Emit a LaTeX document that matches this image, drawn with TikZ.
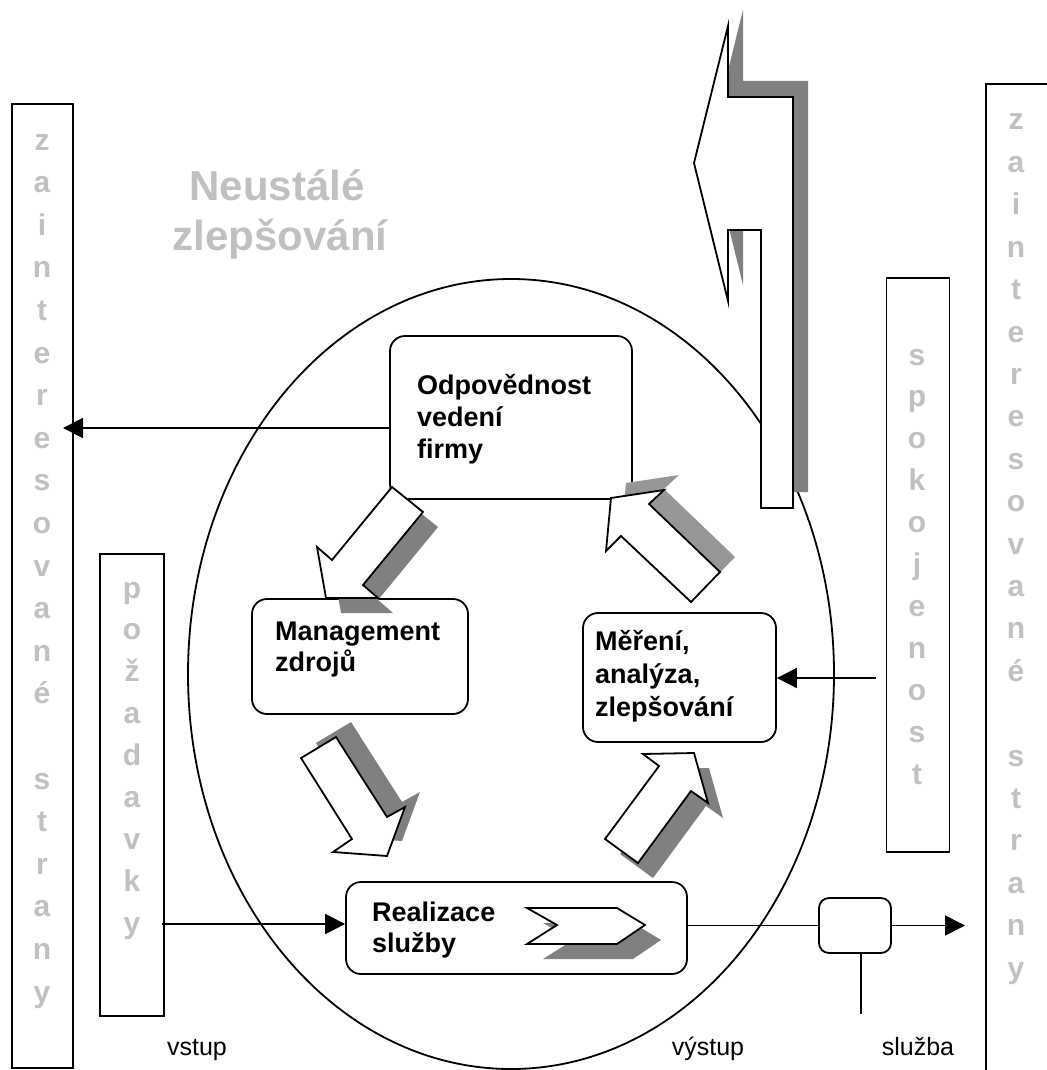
\documentclass[tikz,border=0pt]{standalone}
\usepackage{fontspec}
\setmainfont{Liberation Sans}
\usetikzlibrary{arrows.meta}
\definecolor{shd}{HTML}{808080}
\definecolor{shdl}{HTML}{969696}
\definecolor{lgt}{HTML}{C0C0C0}
\begin{document}
\begin{tikzpicture}[x=1pt,y=-1pt,
  box/.style={draw, line width=1.8pt, rounded corners=15pt, fill=white, inner sep=0pt},
  bar/.style={draw, line width=1.8pt, fill=white, inner sep=0pt},
  blk/.style={draw, line width=1.8pt, fill=white, line join=miter},
  vl/.style={text=lgt, font=\fontsize{30}{30}\selectfont\bfseries, anchor=base, inner sep=0pt},
  bt/.style={font=\fontsize{27}{27}\selectfont\bfseries, anchor=base west, inner sep=0pt},
  lab/.style={font=\fontsize{25}{25}\selectfont, anchor=base, inner sep=0pt},
  arr/.style={line width=1.8pt, -{Triangle[length=20pt,width=20pt]}},
  ln/.style={line width=1.8pt}]
\useasboundingbox (0,0) rectangle (1046,1070);

% big ellipse
\draw[ln] (511,674) ellipse [x radius=323pt, y radius=395pt];

% side bars
\node[bar, minimum width=61pt, minimum height=964pt] (zl) at (42.5,586) {};
\node[bar, minimum width=64pt, minimum height=462pt] (poz) at (132,785) {};
\node[bar, minimum width=63pt, minimum height=574pt] (spk) at (918,565) {};
\node[bar, minimum width=94pt, minimum height=996pt] (zr) at (1033,582) {};

\foreach \l [count=\i from 0] in {z,a,i,n,t,e,r,e,s,o,v,a,n,é,{},s,t,r,a,n,y}
  \node[vl] (zlt\i) at (42,150+42.6*\i) {\l};
\foreach \l [count=\i from 0] in {z,a,i,n,t,e,r,e,s,o,v,a,n,é,{},s,t,r,a,n,y}
  \node[vl] (zrt\i) at (1016,130+42.4*\i) {\l};
\foreach \l [count=\i from 0] in {p,o,ž,a,d,a,v,k,y}
  \node[vl] (pzt\i) at (132,598+41.9*\i) {\l};
\foreach \l [count=\i from 0] in {s,p,o,k,o,j,e,n,o,s,t}
  \node[vl] (spt\i) at (917,365+41.9*\i) {\l};

% title
\node[text=lgt, font=\fontsize{42}{42}\selectfont\bfseries, anchor=base, inner sep=0pt] (t1) at (277,200) {Neustálé};
\node[text=lgt, font=\fontsize{42}{42}\selectfont\bfseries, anchor=base, inner sep=0pt] (t2) at (280,250) {zlepšování};

% big top arrow
\fill[shd, shift={(15,-16)}] (728,26) -- (728,97) -- (793,97) -- (793,508) -- (761,508) -- (761,230) -- (728,230) -- (728,301) -- (694,163) -- cycle;
\draw[blk] (728,26) -- (728,97) -- (793,97) -- (793,508) -- (761,508) -- (761,230) -- (728,230) -- (728,301) -- (694,163) -- cycle;

% boxes
\node[box, minimum width=242pt, minimum height=163pt] (odp) at (511,417.5) {};
\node[box, minimum width=216pt, minimum height=115pt] (man) at (360,656.5) {};
\node[box, minimum width=193pt, minimum height=129pt] (mer) at (679.5,677.5) {};
\node[box, minimum width=341pt, minimum height=92pt] (rea) at (516.5,928) {};
\node[box, rounded corners=10pt, minimum width=72pt, minimum height=55pt] (sl) at (855,925.5) {};

% box texts
\node[bt] (o1) at (417,394) {Odpovědnost};
\node[bt] (o2) at (417,426) {vedení};
\node[bt] (o3) at (417,458) {firmy};
\node[bt] (m1) at (275,640) {Management};
\node[bt] (m2) at (275,671) {zdrojů};
\node[bt] (e1) at (595,650) {Měření,};
\node[bt] (e2) at (595,683) {analýza,};
\node[bt] (e3) at (595,716) {zlepšování};
\node[bt] (r1) at (372,921) {Realizace};
\node[bt] (r2) at (372,952) {služby};

% chevron in Realizace
\fill[shd, shift={(16,15)}] (527,908) -- (617,908) -- (645,925) -- (617,944) -- (527,944) -- (557,925) -- cycle;
\draw[blk] (527,908) -- (617,908) -- (645,925) -- (617,944) -- (527,944) -- (557,925) -- cycle;

% block arrows of the cycle
\fill[shd, shift={(15,15)}] (392,487) -- (423,512) -- (363,585) -- (378,598) -- (326,598) -- (317,547) -- (332,560) -- cycle;
\draw[blk] (392,487) -- (423,512) -- (363,585) -- (378,598) -- (326,598) -- (317,547) -- (332,560) -- cycle;

\fill[shd, shift={(15,-15)}] (301,758) -- (336,737) -- (387,817) -- (405,807) -- (387,856) -- (333,852) -- (352,839) -- cycle;
\draw[blk] (301,758) -- (336,737) -- (387,817) -- (405,807) -- (387,856) -- (333,852) -- (352,839) -- cycle;

\fill[shd, shift={(15,15)}] (605,839) -- (638,863) -- (691,791) -- (708,803) -- (694,753) -- (643,754) -- (659,766) -- cycle;
\draw[blk] (605,839) -- (638,863) -- (691,791) -- (708,803) -- (694,753) -- (643,754) -- (659,766) -- cycle;

\fill[shdl, shift={(15,-15)}] (691,602) -- (720,572) -- (649,504) -- (664,490) -- (611,498) -- (606,551) -- (621,536) -- cycle;
\draw[blk] (691,602) -- (720,572) -- (649,504) -- (664,490) -- (611,498) -- (606,551) -- (621,536) -- cycle;

% connectors
\coordinate (ltip) at (63,428);
\draw[arr] (ltip -| odp.west) -- (ltip);
\coordinate (pin) at (162,924);
\draw[arr] (pin) -- (pin -| rea.west);
\coordinate (sin) at (876,678);
\draw[arr] (sin) -- (sin -| mer.east);
\coordinate (otip) at (965,925.5);
\draw[ln] (rea.east |- sl.west) -- (sl.west);
\draw[arr] (sl.east) -- (otip);
\coordinate (sbot) at (861,1014);
\draw[ln] (sbot |- sl.south) -- (sbot);

% labels
\node[lab] (vs) at (197,1055) {vstup};
\node[lab] (vy) at (708,1055) {výstup};
\node[lab] (sb) at (918,1055) {služba};
\end{tikzpicture}
\end{document}
